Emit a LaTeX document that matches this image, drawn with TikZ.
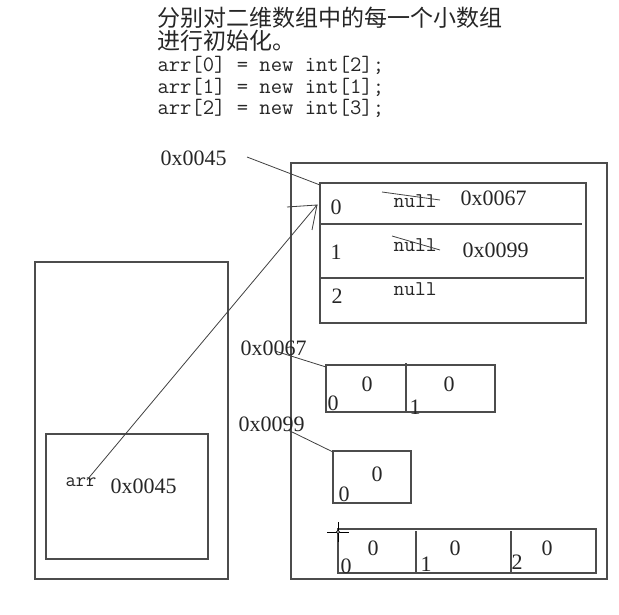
\documentclass[tikz,border=0pt]{standalone}
\usepackage{fontspec}
\setmainfont{Liberation Serif}
\newfontfamily\cjk{Noto Sans CJK SC}

\begin{document}
\begin{tikzpicture}[x=1pt,y=-1pt,line width=1pt,
    every node/.style={inner sep=0pt,text=black!85,font=\fontsize{22}{22}\selectfont},
    code/.style={anchor=west,font=\fontsize{22}{22}\ttfamily},
    box/.style={draw=black!70,line width=1.2pt},
    pen/.style={draw=black!75,line width=0.8pt}]
    \useasboundingbox (0,0) rectangle (619,615);

    % text at the top
    \node[anchor=west,font=\fontsize{23}{23}\cjk] (title1) at (157,18) {分别对二维数组中的每一个小数组};
    \node[anchor=west,font=\fontsize{23}{23}\cjk] (title2) at (157,41) {进行初始化。};
    \node[code] (line0) at (157,65) {arr[0] = new int[2];};
    \node[code] (line1) at (157,87) {arr[1] = new int[1];};
    \node[code] (line2) at (157,108) {arr[2] = new int[3];};

    % stack
    \draw[box] (35,262) rectangle (228,579);
    \draw[box] (46,434) rectangle (208,559);
    \node[code,font=\fontsize{20}{20}\ttfamily] (arr) at (65,482) {arr};
    \node[anchor=west] (arraddr) at (110,486) {0x0045};

    % heap
    \draw[box] (291,163) rectangle (607,579);

    % the array of arrays
    \draw[box] (320,183) rectangle (586,323);
    \draw[box] (320,224) -- (582,224);
    \draw[box] (320,278) -- (584,278);
    \node (idx0) at (336,207) {0};
    \node (idx1) at (336,252) {1};
    \node (idx2) at (337,296) {2};
    \node[code,font=\fontsize{21}{21}\ttfamily] (null0) at (393,201) {null};
    \node[code,font=\fontsize{21}{21}\ttfamily] (null1) at (393,245) {null};
    \node[code,font=\fontsize{21}{21}\ttfamily] (null2) at (393,289) {null};
    \draw[pen] (382,192) -- (440,200);
    \draw[pen] (392,236) -- (440,250);
    \node[anchor=west] (ref0) at (460,198) {0x0067};
    \node[anchor=west] (ref1) at (462,250) {0x0099};

    \node[anchor=west] (addr) at (160,158) {0x0045};
    \coordinate (corner) at (320,185);
    \draw[pen] (247,157) -- (corner);

    % arrow from arr to the array
    \coordinate (tip) at (317,205);
    \draw[pen] (87,480) -- (tip) -- (287,207);
    \draw[pen] (tip) -- (312,230);

    % arr[0]
    \node[anchor=west] (addr0) at (240,348) {0x0067};
    \draw[box] (326,365) rectangle (495,412);
    \draw[box] (406,363) -- (406,412);
    \node (a00) at (367,384) {0};
    \node (a01) at (449,384) {0};
    \node (i00) at (333,403) {0};
    \node (i01) at (415,407) {1};
    \draw[pen] (275,351) -- (326,367);

    % arr[1]
    \node[anchor=west] (addr1) at (238,424) {0x0099};
    \draw[box] (333,451) rectangle (411,503);
    \node (a10) at (377,474) {0};
    \node (i10) at (344,494) {0};
    \draw[pen] (288,430) -- (333,452);

    % arr[2]
    \draw[box] (338,529) rectangle (596,573);
    \draw[box] (416,531) -- (416,572);
    \draw[box] (511,531) -- (511,572);
    \node (a20) at (373,548) {0};
    \node (a21) at (455,548) {0};
    \node (a22) at (547,548) {0};
    \node (i20) at (346,566) {0};
    \node (i21) at (426,564) {1};
    \node (i22) at (517,562) {2};

    % cursor
    \draw[line width=0.9pt] (327,532) -- (349,532) (338,522) -- (338,542);
    \draw[line width=0.6pt,fill=white] (338,532) circle (1.6);
\end{tikzpicture}
\end{document}
